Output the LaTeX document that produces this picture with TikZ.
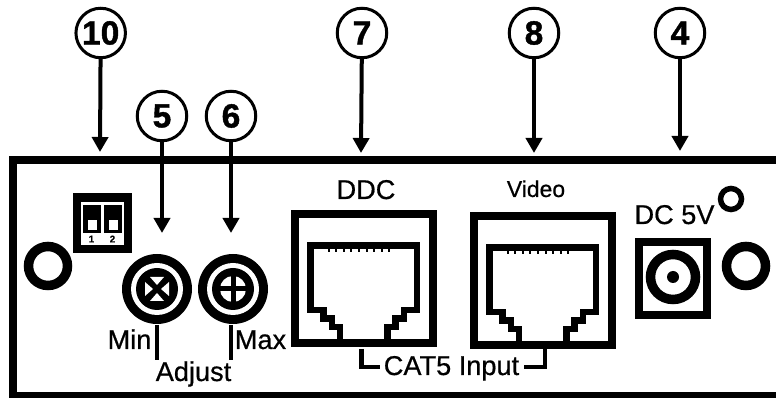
\documentclass[tikz,border=0pt]{standalone}
\usepackage{fontspec}
\setmainfont[FakeBold=0.6]{Liberation Sans}
\newfontfamily\calloutfont[FakeBold=1.2]{Liberation Sans Bold}
\usetikzlibrary{arrows.meta}

\def\px{0.567pt}
\tikzset{
  callout/.style={circle,draw=black,line width=3*\px,fill=white,inner sep=0pt,outer sep=0pt,
    minimum size=49.5*\px,font=\fontsize{19pt}{20pt}\calloutfont},
  pointer/.style={black,line width=4*\px,-{Triangle[width=16*\px,length=15*\px]}},
  lab/.style={anchor=base,inner sep=0pt,font=\fontsize{15.4pt}{16pt}\selectfont},
  tick/.style={black,line width=4.5*\px},
  outline/.style={black,line width=8*\px}
}

\begin{document}
\begin{tikzpicture}[x=\px,y=-\px]
\useasboundingbox (0,0) rectangle (776,398);
\fill[white] (0,0) rectangle (776,398);

% panel
\draw[black,line width=8*\px] (776,160) -- (13,160) -- (13,396.5) -- (776,396.5);

% round holes
\draw[black,line width=9.5*\px] (48,266) circle (19.5);
\draw[black,line width=9.5*\px] (746,266) circle (19.5);
\draw[black,line width=5.5*\px] (731,199) circle (10.5);

% dip switch
\fill[black] (73,193) rectangle (132,253);
\fill[white] (81,202) rectangle (124,245);
\foreach \sx/\num in {83/1,104/2}{
  \fill[black] (\sx,205) rectangle (\sx+18,233);
  \fill[white] (\sx+4.5,220) rectangle (\sx+13.5,230);
  \node[inner sep=0pt,font=\fontsize{5.5pt}{6pt}\bfseries] (dip\num) at (\sx+8.5,239) {\num};
}

% min knob
\fill[black] (157,289) circle (35);
\fill[white] (157,289) circle (26);
\fill[black] (157,289) circle (21);
\foreach \ang in {0,90,180,270}{
  \fill[white,shift={(157,289)},rotate=\ang] (-7,-12) -- (7,-12) -- (0,-4) -- cycle;
}

% max knob
\fill[black] (233,289) circle (35);
\fill[white] (233,289) circle (26);
\fill[black] (233,289) circle (21);
\fill[white] (233,289) circle (13);
\fill[black] (230.5,273) rectangle (235.5,305);
\fill[black] (217,286.5) rectangle (249,291.5);

% knob labels
\draw[tick] (157,325) -- (157,360);
\draw[tick] (231,325) -- (231,360);
\node[lab] (minlab) at (129.5,349) {Min};
\node[lab] (maxlab) at (260.5,349) {Max};
\node[lab] (adjustlab) at (193.5,381) {Adjust};

% rj45 jacks
\foreach \jx/\jy in {0/0,179/2}{
  \begin{scope}[shift={(\jx,\jy)}]
    \draw[outline] (295,214) rectangle (433,343);
    \draw[black,line width=6.5*\px] (340,343) -- (340,327) -- (332,327) -- (332,318.5) -- (323.5,318.5)
      -- (323.5,310) -- (310.5,310) -- (310.5,245.5) -- (417,245.5) -- (417,310) -- (404,310)
      -- (404,318.5) -- (395.5,318.5) -- (395.5,327) -- (387.5,327) -- (387.5,343);
    \fill[black] (308,242) rectangle (420,249);
    \foreach \t in {0,...,8}{
      \fill[black] (327.5+\t*7.6,249) rectangle (329.5+\t*7.6,252);
    }
  \end{scope}
}
\node[lab] (ddclab) at (366,199) {DDC};
\node[lab,font=\fontsize{13pt}{14pt}\selectfont] (videolab) at (536,197) {Video};

% cat5 bracket
\node[lab] (catlab) at (451.5,375) {CAT5 Input};
\draw[tick] (361.5,349) -- (361.5,367) -- (380,367);
\draw[tick] (545,349) -- (545,367) -- (524,367);

% dc socket
\draw[outline] (639,242) rectangle (707,315);
\draw[black,line width=9.5*\px] (673,277) circle (22.5);
\fill[black] (673,277) circle (6);
\node[lab] (dclab) at (674.5,224) {DC 5V};

% callouts
\node[callout] (n10) at (100.7,33) {10};
\node[callout] (n5) at (162,116) {5};
\node[callout] (n6) at (231,116) {6};
\node[callout] (n7) at (362,33) {7};
\node[callout] (n8) at (534,33) {8};
\node[callout] (n4) at (680,33) {4};
\coordinate (c10) at (100,152);
\coordinate (c5) at (162,233);
\coordinate (c6) at (231,233);
\coordinate (c7) at (361,153);
\coordinate (c8) at (534,153);
\coordinate (c4) at (680,151);
\foreach \from/\to in {n10/c10,n5/c5,n6/c6,n7/c7,n8/c8,n4/c4}{
  \draw[pointer] (\from) -- (\to);
}
\end{tikzpicture}
\end{document}
